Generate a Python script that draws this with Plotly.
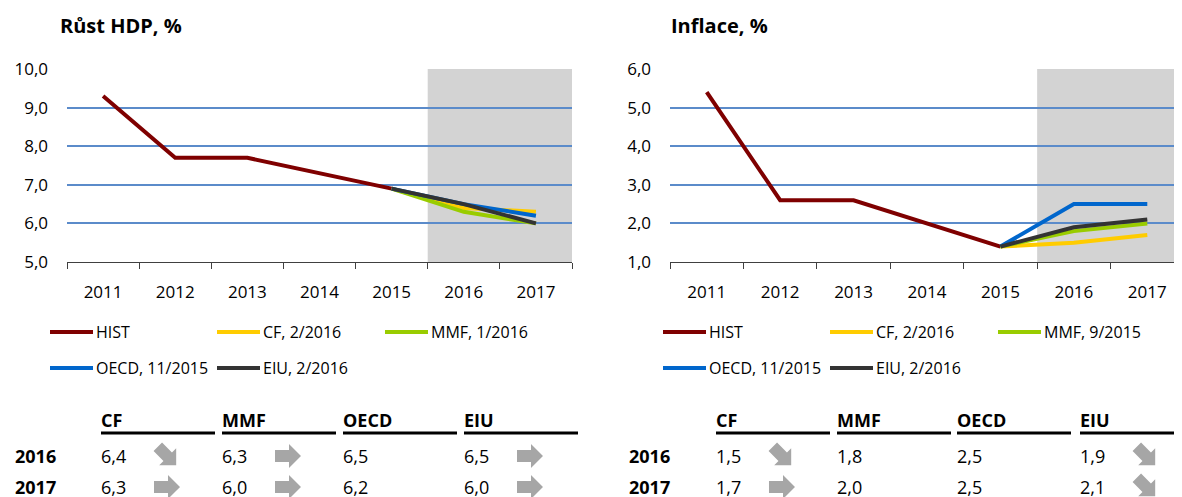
import math
import plotly.graph_objects as go

W, H = 1182, 497
OFF = 8  # page body margin the figure gets pushed by
FONT = "Open Sans"

# ---- data ----
years = ["2011", "2012", "2013", "2014", "2015", "2016", "2017"]
hist_years = years[:5]
fc_years = years[4:]

gdp_hist = [9.3, 7.7, 7.7, 7.3, 6.9]
gdp_cf = [6.9, 6.4, 6.3]
gdp_mmf = [6.9, 6.3, 6.0]
gdp_oecd = [6.9, 6.5, 6.2]
gdp_eiu = [6.9, 6.5, 6.0]

inf_hist = [5.4, 2.6, 2.6, 2.0, 1.4]
inf_cf = [1.4, 1.5, 1.7]
inf_mmf = [1.4, 1.8, 2.0]
inf_oecd = [1.4, 2.5, 2.5]
inf_eiu = [1.4, 1.9, 2.1]

series_names = ["HIST", "CF", "MMF", "OECD", "EIU"]
series_colors = ["#7f0000", "#ffcc00", "#99cc00", "#0066cc", "#333333"]
gdp_labels = ["HIST", "CF, 2/2016", "MMF, 1/2016", "OECD, 11/2015", "EIU, 2/2016"]
inf_labels = ["HIST", "CF, 2/2016", "MMF, 9/2015", "OECD, 11/2015", "EIU, 2/2016"]

table_cols = ["CF", "MMF", "OECD", "EIU"]
table_rows = ["2016", "2017"]
gdp_table = [["6,4", "6,3", "6,5", "6,5"], ["6,3", "6,0", "6,2", "6,0"]]
gdp_arrows = [["down", "flat", "", "flat"], ["flat", "flat", "", "flat"]]
inf_table = [["1,5", "1,8", "2,5", "1,9"], ["1,7", "2,0", "2,5", "2,1"]]
inf_arrows = [["down", "", "", "down"], ["flat", "", "", "down"]]


def fx(x):
    return (x - OFF) / W


def fy(y):
    return 1 - (y - OFF) / H


fig = go.Figure()

panels = [
    dict(xa="x", ya="y", hist=gdp_hist, fc=[gdp_cf, gdp_mmf, gdp_oecd, gdp_eiu]),
    dict(xa="x2", ya="y2", hist=inf_hist, fc=[inf_cf, inf_mmf, inf_oecd, inf_eiu]),
]
for p in panels:
    fig.add_trace(go.Scatter(x=hist_years, y=p["hist"], mode="lines", name="HIST",
                             line=dict(color=series_colors[0], width=4),
                             xaxis=p["xa"], yaxis=p["ya"], showlegend=False))
    for i, vals in enumerate(p["fc"]):
        fig.add_trace(go.Scatter(x=fc_years, y=vals, mode="lines", name=series_names[i + 1],
                                 line=dict(color=series_colors[i + 1], width=4),
                                 xaxis=p["xa"], yaxis=p["ya"], showlegend=False))

shapes = []
annotations = []

# forecast shading
for xr, yr, y0, y1 in [("x", "y", 5, 10), ("x2", "y2", 1, 6)]:
    shapes.append(dict(type="rect", xref=xr, yref=yr, x0=4.5, x1=6.5, y0=y0, y1=y1,
                       fillcolor="#d3d3d3", line_width=0, layer="below"))

# titles
for x0, txt in [(58, "Růst HDP, %"), (669, "Inflace, %")]:
    annotations.append(dict(x=fx(x0), y=fy(25), xref="paper", yref="paper", text="<b>%s</b>" % txt,
                            showarrow=False, xanchor="left", yanchor="middle",
                            font=dict(size=20, color="#000000")))

# legends (custom, two rows)
legend_pos = [(50, 332), (217, 332), (385, 332), (50, 368), (217, 368)]
for dx, labels in [(0, gdp_labels), (613, inf_labels)]:
    for i, (lx, ly) in enumerate(legend_pos):
        shapes.append(dict(type="line", xref="paper", yref="paper",
                           x0=fx(lx + dx), x1=fx(lx + dx + 43), y0=fy(ly), y1=fy(ly),
                           line=dict(color=series_colors[i], width=4)))
        annotations.append(dict(x=fx(lx + dx + 44), y=fy(ly), xref="paper", yref="paper",
                                text=labels[i], showarrow=False, xanchor="left", yanchor="middle",
                                font=dict(size=16, color="#000000")))


def arrow_path(cx, cy, kind):
    pts = [(-13, -6), (1, -6), (1, -12), (13, 0), (1, 12), (1, 6), (-13, 6)]
    a = math.radians(45 if kind == "down" else 0)
    out = []
    for px_, py_ in pts:
        rx = px_ * math.cos(a) - py_ * math.sin(a)
        ry = px_ * math.sin(a) + py_ * math.cos(a)
        out.append("%.5f,%.5f" % (fx(cx + rx), fy(cy + ry)))
    return "M" + " L".join(out) + " Z"


# tables
tables = [
    dict(row_x=15, col_x=[101, 222, 343, 464], vals=gdp_table, arr=gdp_arrows),
    dict(row_x=629, col_x=[716, 837, 957, 1080], vals=inf_table, arr=inf_arrows),
]
row_y = [456, 487]
for t in tables:
    for j, c in enumerate(table_cols):
        cx = t["col_x"][j]
        annotations.append(dict(x=fx(cx - 2), y=fy(420), xref="paper", yref="paper",
                                text="<b>%s</b>" % c, showarrow=False, xanchor="left",
                                yanchor="middle", font=dict(size=18, color="#000000")))
        shapes.append(dict(type="line", xref="paper", yref="paper",
                           x0=fx(cx), x1=fx(cx + 114), y0=fy(433), y1=fy(433),
                           line=dict(color="#000000", width=3)))
    for r, ry in enumerate(row_y):
        annotations.append(dict(x=fx(t["row_x"] - 2), y=fy(ry), xref="paper", yref="paper",
                                text="<b>%s</b>" % table_rows[r], showarrow=False,
                                xanchor="left", yanchor="middle",
                                font=dict(size=18, color="#000000")))
        for j in range(len(table_cols)):
            cx = t["col_x"][j]
            annotations.append(dict(x=fx(cx - 2), y=fy(ry), xref="paper", yref="paper",
                                    text=t["vals"][r][j], showarrow=False, xanchor="left",
                                    yanchor="middle", font=dict(size=18, color="#000000")))
            kind = t["arr"][r][j]
            if kind:
                shapes.append(dict(type="path", xref="paper", yref="paper",
                                   path=arrow_path(cx + 66, ry, kind),
                                   fillcolor="#a6a6a6", line_width=0))

xaxis_common = dict(type="category", categoryorder="array", categoryarray=years,
                    range=[-0.5, 6.5], autorange=False, automargin=False,
                    showgrid=False, showline=True, linecolor="#404040", linewidth=1,
                    ticks="outside", tickson="boundaries", ticklen=6, tickcolor="#404040",
                    ticklabelstandoff=15, tickfont=dict(size=17, color="#000000"),
                    zeroline=False, fixedrange=True)
yaxis_common = dict(showgrid=True, gridcolor="#5b8bca", gridwidth=1.5, dtick=1,
                    tickformat=".1f", ticks="", showline=False, zeroline=False,
                    automargin=False, autorange=False,
                    ticklabelstandoff=18, tickfont=dict(size=17, color="#000000"),
                    fixedrange=True)

fig.update_layout(
    width=W, height=H,
    margin=dict(l=0, r=0, t=0, b=0, pad=0, autoexpand=False),
    paper_bgcolor="white", plot_bgcolor="white",
    font=dict(family=FONT, color="#000000"),
    separators=", ",
    showlegend=False,
    xaxis=dict(domain=[fx(67), fx(572)], anchor="y", **xaxis_common),
    yaxis=dict(domain=[fy(262), fy(69)], range=[5, 10], anchor="x", **yaxis_common),
    xaxis2=dict(domain=[fx(670), fx(1184)], anchor="y2", **xaxis_common),
    yaxis2=dict(domain=[fy(262), fy(69)], range=[1, 6], anchor="x2", **yaxis_common),
    shapes=shapes,
    annotations=annotations,
)

fig.write_html("out.html")
